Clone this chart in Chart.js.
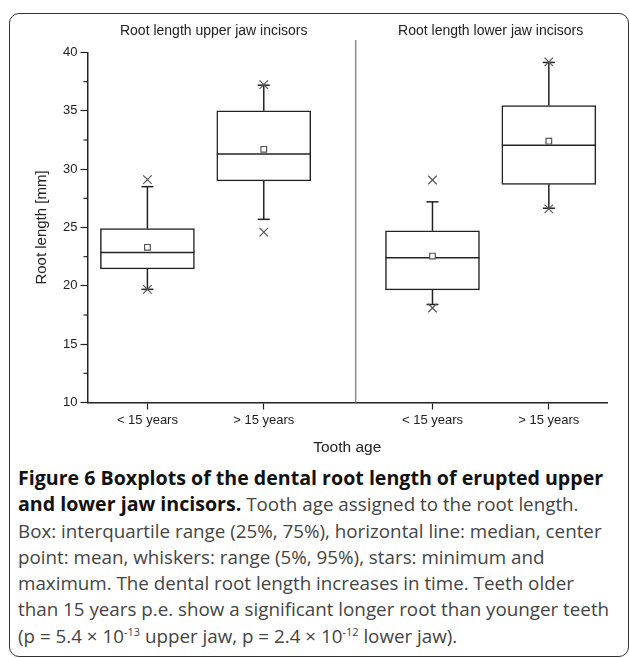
<!DOCTYPE html>
<html>
<head>
<meta charset="utf-8">
<script src="https://cdn.jsdelivr.net/npm/chart.js@4.4.1/dist/chart.umd.min.js"></script>
<style>
  body { margin: 0; background: #fff; }
  #frame { position: absolute; left: 9px; top: 13px; width: 618px; height: 642px; border: 1.5px solid #333; border-radius: 10px; }
  #boxChart { position: absolute; left: 0; top: 0; }
  #caption { position: absolute; left: 18px; top: 465px; font-family: 'Open Sans', sans-serif; font-size: 18.8px; line-height: 26.3px; color: #444; white-space: nowrap; }
  #caption b { color: #111; font-size: 19.6px; }
  #caption sup { font-size: 11px; line-height: 0; }
</style>
</head>
<body>
<div id="frame"></div>
<canvas id="boxChart" width="629" height="462"></canvas>
<div id="caption"><b>Figure 6 Boxplots of the dental root length of erupted upper</b><br><b>and lower jaw incisors.</b> Tooth age assigned to the root length.<br>Box: interquartile range (25%, 75%), horizontal line: median, center<br>point: mean, whiskers: range (5%, 95%), stars: minimum and<br>maximum. The dental root length increases in time. Teeth older<br>than 15 years p.e. show a significant longer root than younger teeth<br>(p = 5.4 × 10<sup>-13</sup> upper jaw, p = 2.4 × 10<sup>-12</sup> lower jaw).</div>
<script>
// groups: upper <15, upper >15, lower <15, lower >15
const groupLabels = ['< 15 years', '> 15 years', '< 15 years', '> 15 years'];
const xPos = [1, 2, 3.45, 4.45];
const panelTitles = ['Root length upper jaw incisors', 'Root length lower jaw incisors'];
const panelTitleAt = [1.57, 3.95];
const dividerAt = 2.79;

const minVals = [19.7, 24.6, 18.1, 26.6];
const p5Vals = [19.7, 25.7, 18.4, 26.65];
const q1Vals = [21.45, 29.0, 19.65, 28.7];
const medianVals = [22.85, 31.3, 22.4, 32.05];
const meanVals = [23.3, 31.7, 22.55, 32.4];
const q3Vals = [24.9, 35.0, 24.72, 35.45];
const p95Vals = [28.5, 37.2, 27.2, 39.15];
const maxVals = [29.1, 37.25, 29.07, 39.2];

const ink = '#222';
const fontFam = "'Liberation Sans', Arial, sans-serif";

const boxExtras = {
  id: 'boxExtras',
  afterDatasetDraw(chart, args) {
    if (args.index !== 0) return;
    const { ctx, scales: { y } } = chart;
    const bars = chart.getDatasetMeta(0).data;
    ctx.save();
    ctx.strokeStyle = ink;
    ctx.lineWidth = 1.5;
    bars.forEach((bar, i) => {
      const half = bar.width / 2;
      const seg = (x1, y1, x2, y2) => { ctx.beginPath(); ctx.moveTo(x1, y1); ctx.lineTo(x2, y2); ctx.stroke(); };
      // median
      const ym = y.getPixelForValue(medianVals[i]);
      seg(bar.x - half, ym, bar.x + half, ym);
      // whiskers + caps
      const yTop = y.getPixelForValue(p95Vals[i]);
      const yBot = y.getPixelForValue(p5Vals[i]);
      seg(bar.x, y.getPixelForValue(q3Vals[i]), bar.x, yTop);
      seg(bar.x, y.getPixelForValue(q1Vals[i]), bar.x, yBot);
      seg(bar.x - 6, yTop, bar.x + 6, yTop);
      seg(bar.x - 6, yBot, bar.x + 6, yBot);
    });
    ctx.restore();
  },
  afterDraw(chart) {
    const { ctx, scales: { x, y } } = chart;
    ctx.save();
    // minor ticks on y
    ctx.strokeStyle = ink;
    ctx.lineWidth = 1.2;
    for (let v = y.min + 2.5; v < y.max; v += 5) {
      const py = y.getPixelForValue(v);
      ctx.beginPath(); ctx.moveTo(y.right - 4, py); ctx.lineTo(y.right, py); ctx.stroke();
    }
    // divider between the panels
    const dx = x.getPixelForValue(dividerAt);
    ctx.strokeStyle = '#8a8a8a';
    ctx.lineWidth = 1.5;
    ctx.beginPath(); ctx.moveTo(dx, 40); ctx.lineTo(dx, chart.chartArea.bottom); ctx.stroke();
    // panel titles
    ctx.fillStyle = ink;
    ctx.font = '14px ' + fontFam;
    ctx.textAlign = 'center';
    ctx.textBaseline = 'middle';
    panelTitles.forEach((t, i) => ctx.fillText(t, x.getPixelForValue(panelTitleAt[i]), 31));
    ctx.restore();
  }
};

const ctx = document.getElementById('boxChart').getContext('2d');
const boxChart = new Chart(ctx, {
  type: 'bar',
  data: {
    datasets: [
      {
        type: 'bar',
        data: xPos.map((v, i) => ({ x: v, y: [q1Vals[i], q3Vals[i]] })),
        backgroundColor: '#fff',
        borderColor: ink,
        borderWidth: 1.5,
        borderSkipped: false,
        barThickness: 94,
        order: 3
      },
      {
        type: 'scatter',
        data: xPos.map((v, i) => ({ x: v, y: meanVals[i] })),
        pointStyle: 'rect',
        radius: 4,
        backgroundColor: '#fff',
        borderColor: '#555',
        borderWidth: 1.2,
        order: 2
      },
      {
        type: 'scatter',
        data: xPos.flatMap((v, i) => [{ x: v, y: minVals[i] }, { x: v, y: maxVals[i] }]),
        pointStyle: 'crossRot',
        radius: 6,
        borderColor: '#555',
        borderWidth: 1.2,
        order: 1
      }
    ]
  },
  options: {
    responsive: false,
    animation: false,
    devicePixelRatio: 1,
    layout: { padding: { left: 33, top: 52.5, right: 22, bottom: 0 } },
    plugins: { legend: { display: false }, tooltip: { enabled: false } },
    scales: {
      x: {
        type: 'linear',
        min: 0.485,
        max: 4.95,
        offset: false,
        afterBuildTicks: (scale) => { scale.ticks = xPos.map(v => ({ value: v })); },
        afterFit: (scale) => { scale.height = 59.5; },
        ticks: {
          autoSkip: false,
          maxRotation: 0,
          padding: 3,
          color: ink,
          font: { family: fontFam, size: 13 },
          callback: (value, index) => groupLabels[index]
        },
        grid: { drawOnChartArea: false, offset: false, tickLength: 7, tickColor: ink, tickWidth: 1.2 },
        border: { color: ink, width: 1.5 },
        title: { display: true, text: 'Tooth age', color: ink, font: { family: fontFam, size: 15.5 }, padding: { top: 0, bottom: 5 } }
      },
      y: {
        min: 10,
        max: 40,
        afterFit: (scale) => { scale.width = 54.5; },
        ticks: { stepSize: 5, padding: 3, color: ink, font: { family: fontFam, size: 13 } },
        grid: { drawOnChartArea: false, tickLength: 7, tickColor: ink, tickWidth: 1.2 },
        border: { color: ink, width: 1.5 },
        title: { display: true, text: 'Root length [mm]', color: ink, font: { family: fontFam, size: 15 }, padding: { top: 0, bottom: 0 } }
      }
    }
  },
  plugins: [boxExtras]
});
</script>
</body>
</html>
